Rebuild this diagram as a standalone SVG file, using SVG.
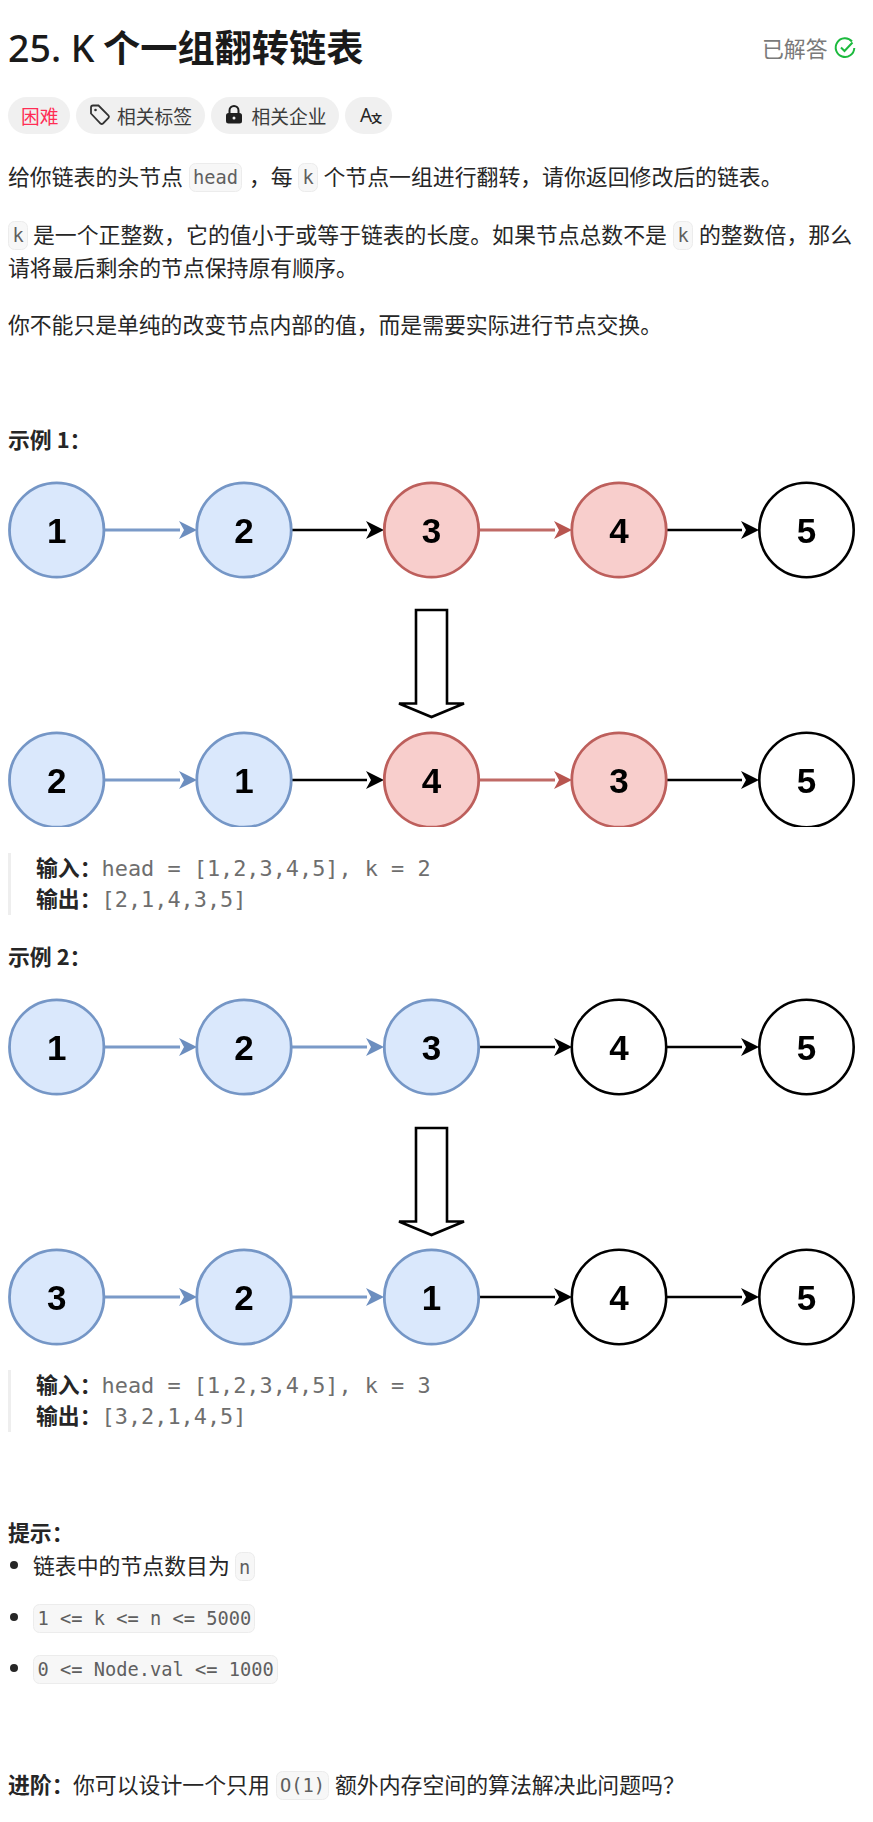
<svg xmlns="http://www.w3.org/2000/svg" width="873" height="1822" viewBox="0 0 873 1822">
<style>
text{font-family:"Noto Sans CJK SC","Noto Sans",sans-serif;font-size:21.875px;fill:#262626}
.b{font-weight:700}
.t{font-size:37.2px;font-weight:700;fill:#1a1a1a}
.tl{font-family:"Noto Sans",sans-serif;font-size:37.5px;font-weight:500;fill:#1a1a1a}
.m{font-family:"DejaVu Sans Mono",monospace;font-size:18.7px;fill:#5f5f5f}
.q{font-family:"DejaVu Sans Mono",monospace;font-size:21.875px;fill:#6e6e6e}
.code{fill:#f7f7f7;stroke:#ececec;stroke-width:1}
.chip{fill:#f0f0f0}
.s{font-size:18.75px;fill:#3c3c3c}
.bar{fill:#eeeeee}
.soft{filter:url(#soft)}
.blue circle{fill:#dae8fc;stroke:#7496c6;stroke-width:2.800}
.red circle{fill:#f8cecc;stroke:#bd5f5b;stroke-width:2.800}
.white circle{fill:#fff;stroke:#000;stroke-width:2.600}
.n{font-family:"Liberation Sans",Arial,sans-serif;font-size:35px;font-weight:700;fill:#000;text-anchor:middle}
.lb{stroke:#7a9ac8;stroke-width:3;fill:none}
.lr{stroke:#c06a66;stroke-width:3;fill:none}
.lk{stroke:#000;stroke-width:2.600;fill:none}
.ab{fill:#6c8ebf}.ar{fill:#b85450}.ak{fill:#000}
.big{fill:#fff;stroke:#000;stroke-width:2.600}
</style>
<defs>
<filter id="soft" x="-5%" y="-5%" width="110%" height="110%"><feGaussianBlur stdDeviation="0.45"/></filter>
<path id="hb" class="ab" d="M0 0L-18-9-13 0-18 9Z"/>
<path id="hr" class="ar" d="M0 0L-18-9-13 0-18 9Z"/>
<path id="hk" class="ak" d="M0 0L-18-9-13 0-18 9Z"/>
<path id="bigarrow" class="big" d="M-15.500 0H15.500V93.500H32.500L0 107-32.500 93.500H-15.500Z"/>
</defs>
<rect width="873" height="1822" fill="#fff"/>
<g id="header">
<text class="tl" x="8" y="62">25. K</text>
<text class="t" x="103" y="62">个一组翻转链表</text>
<text x="762" y="57" style="fill:#7a7a7a">已解答</text>
<g fill="none" stroke="#1cba3e" stroke-width="2"><path d="M852 41.500A9.300 9.300 0 1 0 854.300 48"/><path d="M841 47.500l3.500 3.500 8-8.500"/></g>
</g>
<g id="chips">
<rect class="chip" x="8" y="97" width="62" height="37" rx="18.500"/>
<text x="21" y="124" style="font-size:18.75px;fill:#ff2d55">困难</text>
<rect class="chip" x="76" y="97" width="129" height="37" rx="18.500"/>
<path d="M91 107.500a2 2 0 0 1 2-2h5.500l10 10a2 2 0 0 1 0 2.500l-5.500 5.500a2 2 0 0 1-2.500 0l-9.500-10z" fill="none" stroke="#333" stroke-width="1.800"/>
<circle cx="95.500" cy="110" r="1.300" fill="#333"/>
<text class="s" x="117" y="124">相关标签</text>
<rect class="chip" x="211" y="97" width="128" height="37" rx="18.500"/>
<rect x="226" y="113" width="16" height="10.500" rx="2.500" fill="#1f1f1f"/><path d="M229.500 113v-2.500a4.500 4.500 0 0 1 9 0v2.500" fill="none" stroke="#1f1f1f" stroke-width="2"/><circle cx="234" cy="118" r="1.500" fill="#f0f0f0"/>
<text class="s" x="251.500" y="124">相关企业</text>
<rect class="chip" x="345" y="97" width="47" height="37" rx="18.500"/>
<text x="360" y="122" style="font-family:'Noto Sans',sans-serif;font-size:19px;fill:#262626">A</text><text x="371" y="123" style="font-size:11px;font-weight:700;fill:#262626">文</text>
</g>
<g id="description">
<text x="8" y="185">给你链表的头节点</text>
<rect class="code" x="189.500" y="163.500" width="52" height="28" rx="6"/>
<text class="m" x="193" y="184">head</text>
<text x="249" y="185">，每</text>
<rect class="code" x="298.500" y="163.500" width="19" height="28" rx="6"/>
<text class="m" x="302.500" y="184">k</text>
<text x="323.500" y="185">个节点一组进行翻转，请你返回修改后的链表。</text>
<rect class="code" x="8.500" y="221.500" width="19" height="28" rx="6"/>
<text class="m" x="12.500" y="242">k</text>
<text x="33" y="243">是一个正整数，它的值小于或等于链表的长度。如果节点总数不是</text>
<rect class="code" x="673.500" y="221.500" width="19" height="28" rx="6"/>
<text class="m" x="677.500" y="242">k</text>
<text x="699" y="243">的整数倍，那么</text>
<text x="8" y="276">请将最后剩余的节点保持原有顺序。</text>
<text x="8" y="333" textLength="654">你不能只是单纯的改变节点内部的值，而是需要实际进行节点交换。</text>
</g>
<text id="ex1" class="b" x="8" y="448">示例 1：</text>
<g id="connectors" class="soft">
<path class="lb" d="M105 530H180M105 780H180M105 1047H180M292 1047H367M105 1297H180M292 1297H367"/>
<path class="lr" d="M480 530H555M480 780H555"/>
<path class="lk" d="M292 530H367M667 530H742M292 780H367M667 780H742M480 1047H555M667 1047H742M480 1297H555M667 1297H742"/>
<use href="#hb" x="197" y="530"/><use href="#hk" x="384" y="530"/><use href="#hr" x="572" y="530"/><use href="#hk" x="759" y="530"/>
<use href="#hb" x="197" y="780"/><use href="#hk" x="384" y="780"/><use href="#hr" x="572" y="780"/><use href="#hk" x="759" y="780"/>
<use href="#hb" x="197" y="1047"/><use href="#hb" x="384" y="1047"/><use href="#hk" x="572" y="1047"/><use href="#hk" x="759" y="1047"/>
<use href="#hb" x="197" y="1297"/><use href="#hb" x="384" y="1297"/><use href="#hk" x="572" y="1297"/><use href="#hk" x="759" y="1297"/>
<use href="#bigarrow" x="431.500" y="610"/>
<use href="#bigarrow" x="431.500" y="1128"/>
</g>
<g id="a1" class="blue soft"><circle cx="56.700" cy="530" r="47.200"/><text class="n" x="56.700" y="542.500">1</text></g>
<g id="a2" class="blue soft"><circle cx="244" cy="530" r="47.200"/><text class="n" x="244" y="542.500">2</text></g>
<g id="a3" class="red soft"><circle cx="431.500" cy="530" r="47.200"/><text class="n" x="431.500" y="542.500">3</text></g>
<g id="a4" class="red soft"><circle cx="619" cy="530" r="47.200"/><text class="n" x="619" y="542.500">4</text></g>
<g id="a5" class="white soft"><circle cx="806.500" cy="530" r="47.200"/><text class="n" x="806.500" y="542.500">5</text></g>
<g id="b1" class="blue soft"><circle cx="56.700" cy="780" r="47.200"/><text class="n" x="56.700" y="792.500">2</text></g>
<g id="b2" class="blue soft"><circle cx="244" cy="780" r="47.200"/><text class="n" x="244" y="792.500">1</text></g>
<g id="b3" class="red soft"><circle cx="431.500" cy="780" r="47.200"/><text class="n" x="431.500" y="792.500">4</text></g>
<g id="b4" class="red soft"><circle cx="619" cy="780" r="47.200"/><text class="n" x="619" y="792.500">3</text></g>
<g id="b5" class="white soft"><circle cx="806.500" cy="780" r="47.200"/><text class="n" x="806.500" y="792.500">5</text></g>
<rect x="0" y="827" width="873" height="6" fill="#fff"/>
<g id="q1">
<rect class="bar" x="8" y="853" width="3" height="62"/>
<text class="b" x="36" y="876">输入：</text><text class="q" x="101.600" y="876">head = [1,2,3,4,5], k = 2</text>
<text class="b" x="36" y="907">输出：</text><text class="q" x="101.600" y="907">[2,1,4,3,5]</text>
</g>
<text id="ex2" class="b" x="8" y="965">示例 2：</text>
<g id="c1" class="blue soft"><circle cx="56.700" cy="1047" r="47.200"/><text class="n" x="56.700" y="1059.500">1</text></g>
<g id="c2" class="blue soft"><circle cx="244" cy="1047" r="47.200"/><text class="n" x="244" y="1059.500">2</text></g>
<g id="c3" class="blue soft"><circle cx="431.500" cy="1047" r="47.200"/><text class="n" x="431.500" y="1059.500">3</text></g>
<g id="c4" class="white soft"><circle cx="619" cy="1047" r="47.200"/><text class="n" x="619" y="1059.500">4</text></g>
<g id="c5" class="white soft"><circle cx="806.500" cy="1047" r="47.200"/><text class="n" x="806.500" y="1059.500">5</text></g>
<g id="d1" class="blue soft"><circle cx="56.700" cy="1297" r="47.200"/><text class="n" x="56.700" y="1309.500">3</text></g>
<g id="d2" class="blue soft"><circle cx="244" cy="1297" r="47.200"/><text class="n" x="244" y="1309.500">2</text></g>
<g id="d3" class="blue soft"><circle cx="431.500" cy="1297" r="47.200"/><text class="n" x="431.500" y="1309.500">1</text></g>
<g id="d4" class="white soft"><circle cx="619" cy="1297" r="47.200"/><text class="n" x="619" y="1309.500">4</text></g>
<g id="d5" class="white soft"><circle cx="806.500" cy="1297" r="47.200"/><text class="n" x="806.500" y="1309.500">5</text></g>
<g id="q2">
<rect class="bar" x="8" y="1370" width="3" height="62"/>
<text class="b" x="36" y="1393">输入：</text><text class="q" x="101.600" y="1393">head = [1,2,3,4,5], k = 3</text>
<text class="b" x="36" y="1424">输出：</text><text class="q" x="101.600" y="1424">[3,2,1,4,5]</text>
</g>
<g id="hints">
<text class="b" x="8" y="1541">提示：</text>
<circle cx="14" cy="1565" r="4" fill="#262626"/>
<text x="33" y="1574">链表中的节点数目为</text>
<rect class="code" x="235.500" y="1552.500" width="19" height="28" rx="6"/>
<text class="m" x="239" y="1574">n</text>
<circle cx="14" cy="1617" r="4" fill="#262626"/>
<rect class="code" x="33.500" y="1604.500" width="221" height="28" rx="6"/>
<text class="m" x="37.500" y="1625">1 &lt;= k &lt;= n &lt;= 5000</text>
<circle cx="14" cy="1668" r="4" fill="#262626"/>
<rect class="code" x="33.500" y="1655.500" width="244" height="28" rx="6"/>
<text class="m" x="37.500" y="1676">0 &lt;= Node.val &lt;= 1000</text>
</g>
<g id="followup">
<text class="b" x="8" y="1793">进阶：</text>
<text x="73" y="1793">你可以设计一个只用</text>
<rect class="code" x="276.500" y="1771.500" width="52" height="28" rx="6"/>
<text class="m" x="280" y="1792">O(1)</text>
<text x="335" y="1793">额外内存空间的算法解决此问题吗？</text>
</g>
</svg>
